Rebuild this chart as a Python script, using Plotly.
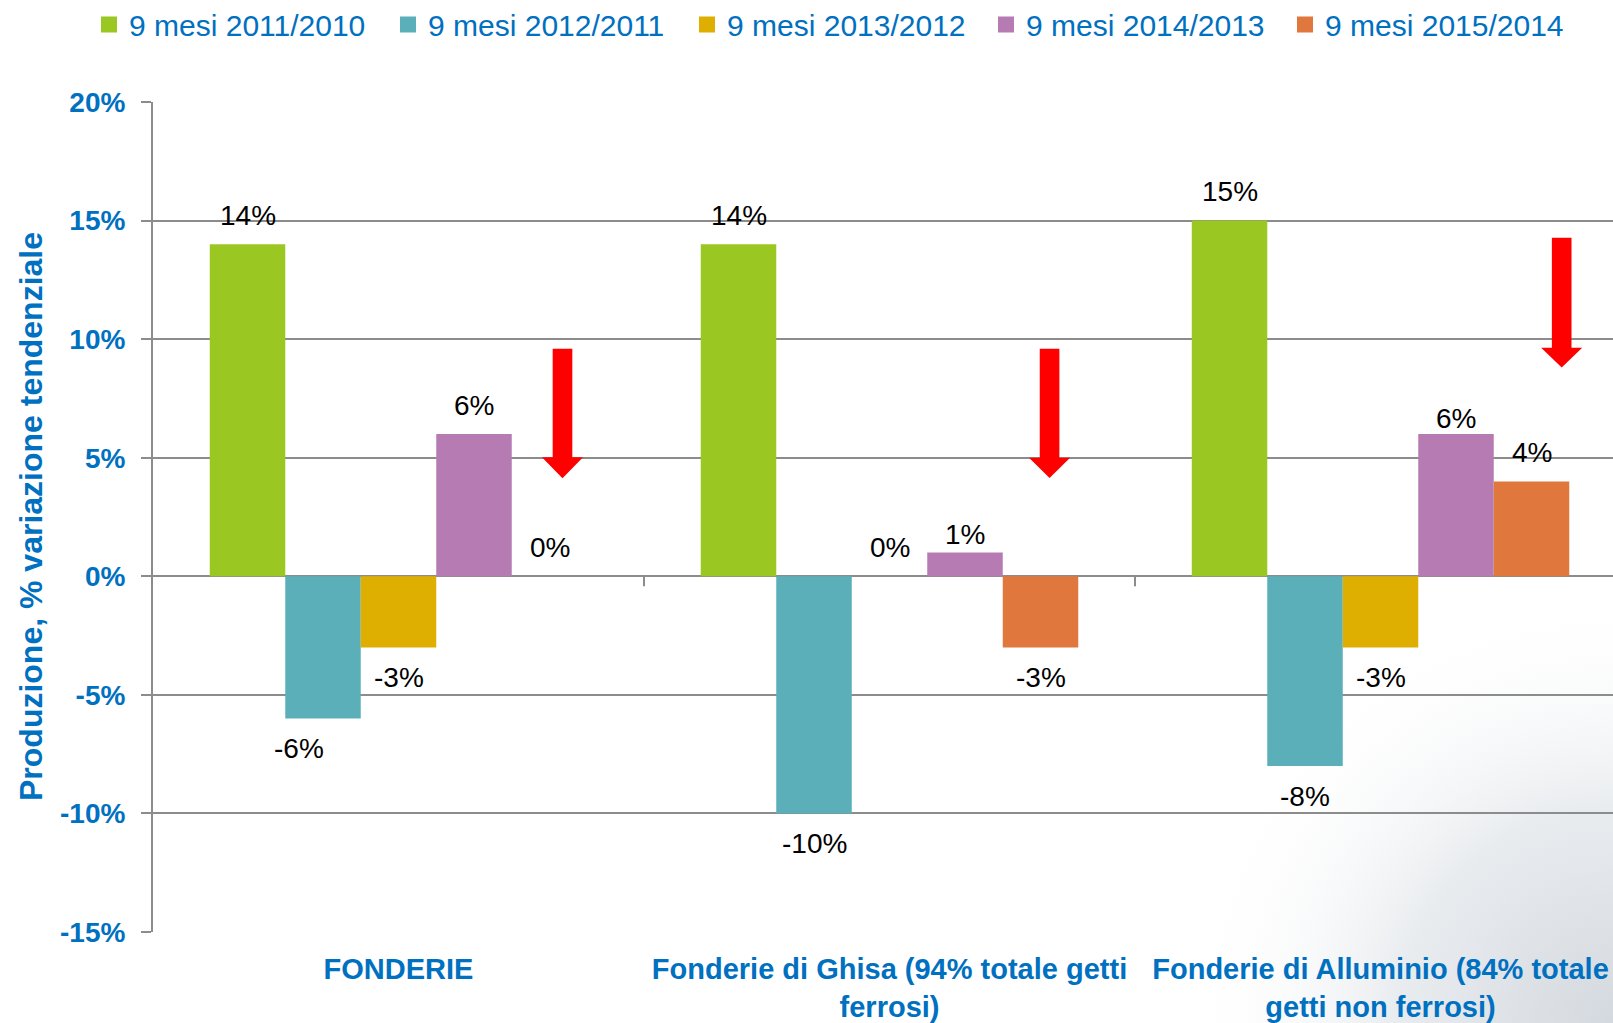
import base64
import plotly.graph_objects as go

# ---------------- data ----------------
categories = [
    "FONDERIE",
    "Fonderie di Ghisa (94% totale getti<br>ferrosi)",
    "Fonderie di Alluminio (84% totale<br>getti non ferrosi)",
]
series_names = ["9 mesi 2011/2010", "9 mesi 2012/2011", "9 mesi 2013/2012",
                "9 mesi 2014/2013", "9 mesi 2015/2014"]
v_2011_2010 = [14, 14, 15]
v_2012_2011 = [-6, -10, -8]
v_2013_2012 = [-3, 0, -3]
v_2014_2013 = [6, 1, 6]
v_2015_2014 = [0, -3, 4]
series_values = [v_2011_2010, v_2012_2011, v_2013_2012, v_2014_2013, v_2015_2014]
y_tick_values = [-15, -10, -5, 0, 5, 10, 15, 20]
y_tick_labels = ["-15%", "-10%", "-5%", "0%", "5%", "10%", "15%", "20%"]
y_title = "Produzione, % variazione tendenziale"

# ---------------- style ----------------
colors = ["#9AC722", "#5AAFB9", "#DEAF00", "#B77BB4", "#E0773D"]
BLUE = "#0070C0"
GRID = "#8C8C8C"
FONT = "Liberation Sans, Arial, sans-serif"
W, H = 1613, 1023
ML, MR, MT, MB = 153, 0, 102, 91
bargap = 0.2312
nser = len(series_names)
bw = (1 - bargap) / nser
x_range = [-0.5, 2.4735]
y_range = [-15, 20]

# label nudges (series index, category index) -> (xshift, yshift)
label_nudge = {(1, 0): (-24, None), (3, 1): (0, 18), (3, 2): (0, 15.5)}

fig = go.Figure()
for j, (name, vals) in enumerate(zip(series_names, series_values)):
    fig.add_trace(go.Bar(
        x=list(range(len(categories))), y=vals, name=name, legendgroup=name,
        showlegend=False, marker=dict(color=colors[j], line=dict(width=0)),
    ))
# legend entries with larger square swatches
for j, name in enumerate(series_names):
    fig.add_trace(go.Scatter(
        x=[None], y=[None], mode="markers", name=name, legendgroup=name,
        marker=dict(symbol="square", size=16, color=colors[j]),
        hoverinfo="skip",
    ))

annotations = []
for j, vals in enumerate(series_values):
    for i, v in enumerate(vals):
        xs, ys = 0, (29 if v >= 0 else -30)
        if (j, i) in label_nudge:
            nx, ny = label_nudge[(j, i)]
            xs = nx if nx is not None else xs
            ys = ny if ny is not None else ys
        annotations.append(dict(
            x=i + (j - (nser - 1) / 2) * bw, y=v, xref="x", yref="y",
            text=f"{v}%", showarrow=False, xshift=xs, yshift=ys,
            xanchor="center", yanchor="middle",
            font=dict(family=FONT, size=28, color="#000000"),
        ))

plot_w = W - ML - MR
plot_h = H - MT - MB
annotations.append(dict(
    x=(31 - ML) / plot_w, y=0.5, xref="paper", yref="paper",
    xanchor="center", yanchor="middle",
    text=y_title, textangle=-90, showarrow=False,
    font=dict(family=FONT, size=32, color=BLUE, weight="bold"),
))

shapes = []
# category separator ticks on the zero line
for b in [0.5, 1.5]:
    shapes.append(dict(type="line", xref="x", yref="y", x0=b, x1=b, y0=0,
                       y1=-10 * 35 / plot_h, line=dict(color=GRID, width=2)))
# red arrows: (x centre, top, head start, tip)
arrows = [(0.334, 9.60, 5.02, 4.13), (1.326, 9.60, 5.00, 4.14), (2.369, 14.28, 9.64, 8.80)]
sw, hw = 0.02, 0.0418
for (xc, yt, yh, yp) in arrows:
    path = (f"M{xc-sw},{yt} L{xc+sw},{yt} L{xc+sw},{yh} L{xc+hw},{yh} "
            f"L{xc},{yp} L{xc-hw},{yh} L{xc-sw},{yh} Z")
    shapes.append(dict(type="path", xref="x", yref="y", path=path,
                       fillcolor="#FF0000", line=dict(width=0), layer="above"))

svg = (f'<svg xmlns="http://www.w3.org/2000/svg" width="{W}" height="{H}">'
       f'<defs><radialGradient id="g" cx="{W}" cy="{H}" r="430" gradientUnits="userSpaceOnUse">'
       '<stop offset="0" stop-color="#d4d9df"/><stop offset="0.5" stop-color="#e9ecef"/>'
       '<stop offset="1" stop-color="#ffffff" stop-opacity="0"/></radialGradient></defs>'
       f'<rect width="{W}" height="{H}" fill="url(#g)"/></svg>')
src = "data:image/svg+xml;base64," + base64.b64encode(svg.encode()).decode()

fig.update_layout(
    width=W, height=H,
    margin=dict(l=ML, r=MR, t=MT, b=MB, autoexpand=False),
    paper_bgcolor="#FFFFFF", plot_bgcolor="rgba(0,0,0,0)",
    barmode="group", bargap=bargap, bargroupgap=0,
    annotations=annotations, shapes=shapes,
    images=[dict(source=src, xref="paper", yref="paper",
                 x=-ML / plot_w, y=1 + MT / plot_h, sizex=W / plot_w, sizey=H / plot_h,
                 sizing="stretch", layer="below", xanchor="left", yanchor="top")],
    legend=dict(orientation="h", xref="paper", yref="paper",
                x=(89 - ML) / plot_w, y=1 + (MT + 1.5) / plot_h, xanchor="left", yanchor="top",
                font=dict(family=FONT, size=30, color=BLUE), itemsizing="trace",
                entrywidth=254, entrywidthmode="pixels", traceorder="normal"),
    xaxis=dict(range=x_range, tickvals=list(range(len(categories))), ticktext=categories,
               showgrid=False, zeroline=False, showline=False, ticks="",
               ticklabelstandoff=17, automargin=False,
               tickfont=dict(family=FONT, size=29, color=BLUE, weight="bold")),
    yaxis=dict(range=y_range, tickvals=y_tick_values, ticktext=y_tick_labels,
               showgrid=True, gridcolor=GRID, gridwidth=2, zeroline=False,
               showline=True, linecolor=GRID, linewidth=2,
               ticks="outside", ticklen=10, tickwidth=2, tickcolor=GRID,
               ticklabelstandoff=10, automargin=False,
               tickfont=dict(family=FONT, size=28, color=BLUE, weight="bold")),
)

fig.write_html("out.html", config={"displayModeBar": False},
               post_script="document.body.style.margin='0px';")
